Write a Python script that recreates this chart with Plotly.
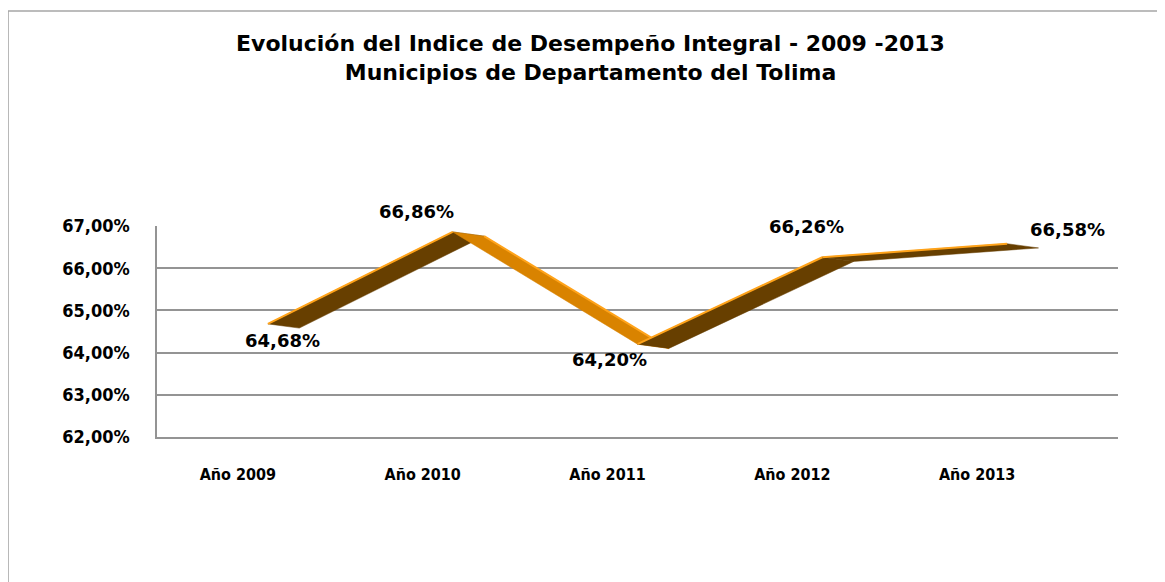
import plotly.graph_objects as go

categories = ["Año 2009", "Año 2010", "Año 2011", "Año 2012", "Año 2013"]
values = [64.68, 66.86, 64.20, 66.26, 66.58]
value_labels = ["64,68%", "66,86%", "64,20%", "66,26%", "66,58%"]
y_ticks = [62, 63, 64, 65, 66, 67]
y_tick_labels = ["62,00%", "63,00%", "64,00%", "65,00%", "66,00%", "67,00%"]

# style constants
DX, DY = 0.17, -0.10          # ribbon depth offset (axis units)
ORANGE_FACE = "#D98300"
BROWN_FACE = "#673F00"
EDGE = "#FFA31A"
GRID = "#949494"

label_shift = [(15, -17), (-36, 20), (-28, -15), (-16, 31), (60, 14)]

fig = go.Figure()
xi = list(range(len(categories)))

# ribbon segments
for i in range(len(values) - 1):
    v0, v1 = values[i], values[i + 1]
    rising = v1 > v0
    fig.add_trace(go.Scatter(
        x=[xi[i], xi[i + 1], xi[i + 1] + DX, xi[i] + DX, xi[i]],
        y=[v0, v1, v1 + DY, v0 + DY, v0],
        mode="lines", fill="toself",
        fillcolor=BROWN_FACE if rising else ORANGE_FACE,
        line=dict(color=BROWN_FACE if rising else ORANGE_FACE, width=0.5),
        hoverinfo="skip", showlegend=False))
    # highlight edge
    if rising:
        ex, ey = [xi[i], xi[i + 1]], [v0, v1]
    else:
        ex, ey = [xi[i] + DX, xi[i + 1] + DX], [v0 + DY, v1 + DY]
    fig.add_trace(go.Scatter(x=ex, y=ey, mode="lines",
                             line=dict(color=EDGE, width=2),
                             hoverinfo="skip", showlegend=False))

for i, (v, t) in enumerate(zip(values, value_labels)):
    sx, sy = label_shift[i]
    fig.add_annotation(x=xi[i], y=v, text=t, showarrow=False,
                       xshift=sx, yshift=sy,
                       font=dict(family="DejaVu Sans", size=18, color="black", weight="bold"))

# chart border
fig.add_shape(type="rect", xref="paper", yref="paper",
              x0=-0.155, x1=1.1, y0=-0.8, y1=2.019,
              line=dict(color="#A6A6A6", width=1.5), fillcolor="rgba(0,0,0,0)", layer="below")

fig.update_layout(
    width=1165, height=582,
    margin=dict(l=149, r=55, t=218, b=153),
    paper_bgcolor="white", plot_bgcolor="white",
    title=dict(text="Evolución del Indice de Desempeño Integral - 2009 -2013<br>Municipios de Departamento del Tolima",
               x=0.5, xanchor="center", xref="container",
               y=1 - 43 / 582, yanchor="top", yref="container",
               font=dict(family="DejaVu Sans", size=22, color="black", weight="bold")),
    xaxis=dict(range=[-0.6, 4.6], tickvals=xi, ticktext=categories,
               showgrid=False, zeroline=False,
               showline=True, linecolor=GRID, linewidth=1.5,
               ticks="", ticklabelstandoff=22, ticklabelshift=-30,
               tickfont=dict(family="DejaVu Sans Condensed", size=16, color="black", weight="bold")),
    yaxis=dict(range=[62, 67], tickvals=y_ticks, ticktext=y_tick_labels,
               showgrid=True, gridcolor=GRID, gridwidth=1.5,
               zeroline=False, showline=True, linecolor=GRID, linewidth=1.5,
               ticks="", ticklabelstandoff=22,
               tickfont=dict(family="DejaVu Sans Condensed", size=18, color="black", weight="bold")),
)

fig.write_html("out.html")
